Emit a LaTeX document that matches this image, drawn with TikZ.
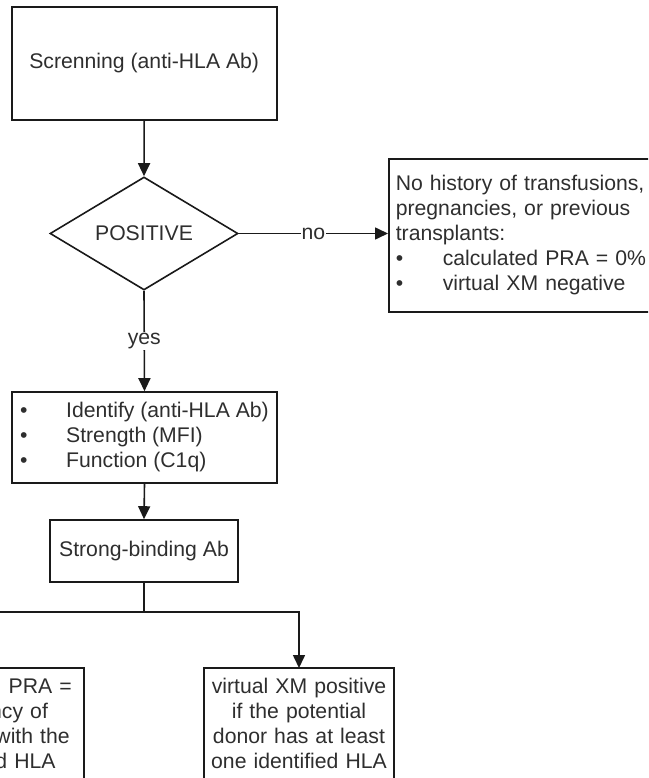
\documentclass[tikz,border=0pt]{standalone}
\usepackage{fontspec}
\setmainfont{Liberation Sans}
\usetikzlibrary{shapes.geometric,arrows.meta}
\definecolor{ln}{HTML}{1A1A1A}
\definecolor{tx}{HTML}{2E2E2E}
\tikzset{
  every node/.style={font=\fontsize{21.2}{25}\selectfont, text=tx},
  boxnode/.style={draw=ln, line width=1.6pt, rectangle, inner sep=0pt},
  decision/.style={draw=ln, line width=1.6pt, diamond, aspect=1.66, inner sep=0pt,
    minimum width=188pt, minimum height=113pt},
  textblock/.style={inner xsep=7pt, inner ysep=10pt, align=center, text width=176pt},
  conn/.style={draw=ln, line width=1.6pt, -{Triangle[length=13pt,width=12pt]}},
  plain/.style={draw=ln, line width=1.6pt},
  lbl/.style={fill=white, inner sep=1pt}
}
\begin{document}
\begin{tikzpicture}[x=1pt,y=-1pt]
\useasboundingbox (0,0) rectangle (648,778);
\clip (0,0) rectangle (648,778);

\node[boxnode, minimum width=265pt, minimum height=113pt] (screen) at (144.2,63.5) {Screnning (anti-HLA Ab)};

\node[decision] (pos) at (144,233.5) {POSITIVE};

\node[boxnode, anchor=north west, inner xsep=7pt, text width=268pt, align=left,
      minimum height=153pt] (none) at (388,158)
  {No history of transfusions,\\
   pregnancies, or previous\\
   transplants:\\
   \makebox[47pt][l]{\textbullet}calculated PRA = 0\%\\
   \makebox[47pt][l]{\textbullet}virtual XM negative};

\node[boxnode, align=left, minimum width=265pt, minimum height=91pt] (ident) at (144.5,437.5)
  {\makebox[46pt][l]{\textbullet}Identify (anti-HLA Ab)\\
   \makebox[46pt][l]{\textbullet}Strength (MFI)\\
   \makebox[46pt][l]{\textbullet}Function (C1q)};

\node[boxnode, minimum width=188pt, minimum height=62pt] (strong) at (144,551) {Strong-binding Ab};

\coordinate (split) at (144,612);

\node[textblock, anchor=north] (cpra) at (-11,668)
  {\phantom{calculated} PRA =\\
   \phantom{freque}ncy of\\
   \phantom{donors w}with the\\
   \phantom{identifie}d HLA};
\draw[plain] (cpra.north west) rectangle ++(190,160);

\node[textblock, anchor=north] (vxm) at (299,668)
  {virtual XM positive\\
   if the potential\\
   donor has at least\\
   one identified HLA};
\draw[plain] (vxm.north west) rectangle ++(190,160);

\draw[conn] (screen.south) -- (pos.north);
\draw[conn] (pos.east) -- node[lbl] {no} (pos.east -| none.west);
\draw[conn] (pos.south) -- node[lbl] {yes} (ident.north);
\draw[conn] (ident.south) -- (strong.north);
\draw[plain] (strong.south) -- (split);
\draw[conn] (split) -| (vxm.north);
\draw[conn] (split) -| (cpra.north);
\end{tikzpicture}
\end{document}
